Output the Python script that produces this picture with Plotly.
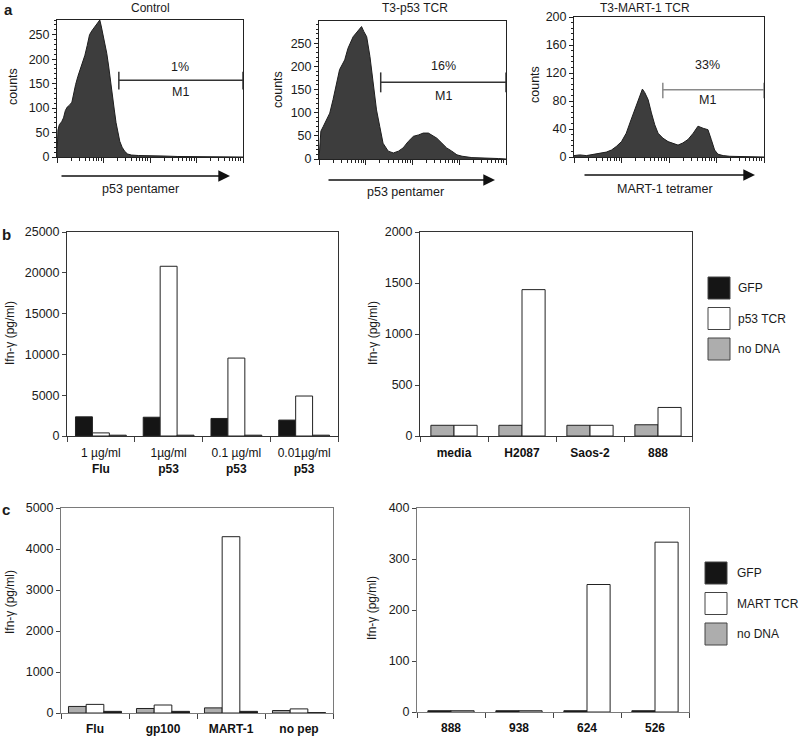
import plotly.graph_objects as go

W, H = 800, 737
FONT = "Arial, Liberation Sans, Helvetica, sans-serif"
FS = 12.5

# ---------------- Panel a: flow histograms (x = decades of fluorescence) ----------------
ctrl_dec = [0.00, 0.02, 0.05, 0.10, 0.14, 0.18, 0.22, 0.27, 0.32, 0.36, 0.40, 0.45, 0.50, 0.55,
            0.60, 0.65, 0.70, 0.75, 0.80, 0.84, 0.88, 0.92, 0.95, 0.99, 1.03, 1.07, 1.11, 1.15,
            1.19, 1.23, 1.27, 1.31, 1.35, 1.40, 1.46, 1.52, 1.60, 1.75, 2.00, 2.30, 2.60, 3.00, 4.00]
ctrl_cnt = [0, 55, 66, 72, 80, 95, 102, 106, 112, 132, 148, 165, 178, 193,
            208, 228, 250, 258, 264, 270, 276, 280, 268, 250, 232, 212, 186, 160,
            130, 98, 70, 48, 32, 20, 11, 6, 4, 3, 3, 2, 1, 1, 0]

p53_dec = [0.00, 0.04, 0.09, 0.16, 0.23, 0.30, 0.37, 0.44, 0.55, 0.62, 0.73, 0.84, 0.91, 0.96,
           1.02, 1.09, 1.16, 1.23, 1.30, 1.37, 1.48, 1.59, 1.70, 1.80, 1.91, 2.02, 2.13, 2.23,
           2.34, 2.41, 2.52, 2.63, 2.73, 2.84, 2.95, 3.06, 3.27, 3.84, 4.00]
p53_cnt = [0, 60, 70, 85, 99, 128, 164, 193, 214, 239, 264, 279, 286, 275,
           264, 221, 157, 106, 70, 34, 17, 13, 17, 24, 38, 49, 52, 56,
           56, 52, 45, 34, 24, 17, 9, 6, 3, 1, 0]

mart_dec = [0.00, 0.12, 0.26, 0.40, 0.54, 0.68, 0.79, 0.89, 1.00, 1.10, 1.20, 1.31, 1.38, 1.44,
            1.49, 1.56, 1.63, 1.70, 1.77, 1.87, 1.98, 2.08, 2.19, 2.29, 2.40, 2.51, 2.61, 2.72,
            2.82, 2.89, 2.96, 3.03, 3.14, 3.28, 4.00]
mart_cnt = [2, 3, 2, 4, 5, 7, 10, 15, 22, 34, 53, 72, 87, 97,
            92, 82, 63, 46, 34, 27, 22, 20, 17, 20, 25, 34, 44, 41,
            39, 25, 10, 4, 2, 1, 0]

# M1 gates: start decade, end decade, level, cap low, cap high
gate_start = [1.33, 1.32, 1.87]
gate_end = [4.0, 4.0, 4.0]
gate_level = [157, 166, 96]
gate_lo = [138, 144, 84]
gate_hi = [174, 187, 106]
gate_pct = ["1%", "16%", "33%"]
gate_label_dec = [2.65, 2.66, 2.82]
gate_pct_y = [184, 201, 131]
gate_m1_y = [133, 136, 82]

hist_titles = ["Control", "T3-p53 TCR", "T3-MART-1 TCR"]
hist_xlabels = ["p53 pentamer", "p53 pentamer", "MART-1 tetramer"]

# ---------------- Panel b ----------------
b1_cats = ["1 µg/ml<br><b>Flu</b>", "1µg/ml<br><b>p53</b>",
           "0.1 µg/ml<br><b>p53</b>", "0.01µg/ml<br><b>p53</b>"]
b1_gfp = [2350, 2300, 2150, 1950]
b1_tcr = [380, 20800, 9550, 4900]
b1_nodna = [100, 100, 100, 100]

b2_cats = ["<b>media</b>", "<b>H2087</b>", "<b>Saos-2</b>", "<b>888</b>"]
b2_gray = [105, 105, 105, 110]
b2_tcr = [105, 1435, 105, 280]

# ---------------- Panel c ----------------
c1_cats = ["<b>Flu</b>", "<b>gp100</b>", "<b>MART-1</b>", "<b>no pep</b>"]
c1_gray = [160, 110, 125, 60]
c1_tcr = [210, 195, 4300, 100]
c1_black = [40, 40, 40, 10]

c2_cats = ["<b>888</b>", "<b>938</b>", "<b>624</b>", "<b>526</b>"]
c2_gfp = [2.5, 2.5, 2.5, 2.5]
c2_tcr = [2.5, 2.5, 250, 333]

BLACK = "#151515"
GRAY = "#adadad"
WHITE = "#ffffff"
EDGE = "#222222"


def xd(a, b):
    return [a / W, b / W]


def yd(top, bottom):
    return [1 - bottom / H, 1 - top / H]


def ptext(x, y, text, size=FS, angle=0, xanchor="center", bold=False):
    return dict(x=x / W, y=1 - y / H, xref="paper", yref="paper",
                text=f"<b>{text}</b>" if bold else text, textangle=angle,
                xanchor=xanchor, yanchor="middle", showarrow=False,
                font=dict(size=size, color="#1a1a1a"))


fig = go.Figure()
annotations = []
shapes = []

# ---------- histograms ----------
hist_data = [(ctrl_dec, ctrl_cnt), (p53_dec, p53_cnt), (mart_dec, mart_cnt)]
hist_x_dom = [(57, 243), (319, 506), (574, 764)]
hist_y_dom = [(20, 157), (21, 159), (17, 157)]
hist_yrange = [280, 298, 200]
hist_dtick = [50, 50, 40]
hist_minor = [10, 10, 8]
gate_colors = ["#333333", "#333333", "#8a8a8a"]
title_pos = [(150, 8), (415, 8), (645, 8)]
counts_pos = [(13, 87), (278, 90), (535, 85)]
arrow_pos = [(60, 230, 176), (327, 495, 180), (583, 755, 175)]
xlabel_pos = [(140, 189), (405, 192), (665, 189)]

for i in range(3):
    xa = "x" if i == 0 else f"x{i+1}"
    ya = "y" if i == 0 else f"y{i+1}"
    dec, cnt = hist_data[i]
    fig.add_trace(go.Scatter(x=[10 ** d for d in dec], y=cnt, mode="lines",
                             fill="tozeroy", fillcolor="#3d3d3d",
                             line=dict(color="#1e1e1e", width=1),
                             xaxis=xa, yaxis=ya, showlegend=False))
    s, e = gate_start[i], gate_end[i]
    gx = [10 ** s, 10 ** s, None, 10 ** s, 10 ** e, None, 10 ** e, 10 ** e]
    gy = [gate_lo[i], gate_hi[i], None, gate_level[i], gate_level[i], None, gate_lo[i], gate_hi[i]]
    fig.add_trace(go.Scatter(x=gx, y=gy, mode="lines",
                             line=dict(color=gate_colors[i], width=1.5),
                             xaxis=xa, yaxis=ya, showlegend=False, cliponaxis=False))
    annotations.append(dict(x=gate_label_dec[i], y=gate_pct_y[i], xref=xa, yref=ya,
                            xanchor="center", yanchor="middle",
                            text=gate_pct[i], showarrow=False, font=dict(size=FS, color="#1a1a1a")))
    annotations.append(dict(x=gate_label_dec[i], y=gate_m1_y[i], xref=xa, yref=ya,
                            xanchor="center", yanchor="middle",
                            text="M1", showarrow=False, font=dict(size=FS, color="#1a1a1a")))
    key = "" if i == 0 else str(i + 1)
    fig.layout["xaxis" + key] = dict(
        type="log", range=[0, 4], domain=xd(*hist_x_dom[i]), anchor=ya, automargin=False,
        showticklabels=False, ticks="outside", ticklen=5, dtick=1, tickcolor="#222",
        minor=dict(ticks="outside", ticklen=3, tickcolor="#222", showgrid=False),
        showline=True, linecolor="#222", linewidth=1, mirror=True,
        showgrid=False, zeroline=False)
    fig.layout["yaxis" + key] = dict(
        range=[0, hist_yrange[i]], domain=yd(*hist_y_dom[i]), anchor=xa, automargin=False,
        dtick=hist_dtick[i], ticks="outside", ticklen=4, tickcolor="#222",
        minor=dict(ticks="outside", ticklen=2, dtick=hist_minor[i], tickcolor="#222", showgrid=False),
        showline=True, linecolor="#222", linewidth=1, mirror=True,
        showgrid=False, zeroline=False, tickfont=dict(size=FS, color="#1a1a1a"))
    tx, ty = title_pos[i]
    annotations.append(ptext(tx, ty, hist_titles[i], size=12))
    cx, cy = counts_pos[i]
    annotations.append(ptext(cx, cy, "counts", angle=-90))
    ax0, ax1, ay = arrow_pos[i]
    annotations.append(dict(x=ax1 / W, y=1 - ay / H, xref="paper", yref="paper", ax=-(ax1 - ax0), ay=0,
                            text="", showarrow=True, arrowhead=2, arrowsize=1.8, arrowwidth=1.3,
                            arrowcolor="#111"))
    lx, ly = xlabel_pos[i]
    annotations.append(ptext(lx, ly, hist_xlabels[i]))

# ---------- bar panels ----------
def bar(x, y, color, xa, ya, width, offset):
    return go.Bar(x=x, y=y, marker=dict(color=color, line=dict(color=EDGE, width=1)),
                  xaxis=xa, yaxis=ya, showlegend=False, width=width, offset=offset)


# b left (axes 4)
fig.add_trace(bar(b1_cats, b1_gfp, BLACK, "x4", "y4", 0.25, -0.375))
fig.add_trace(bar(b1_cats, b1_tcr, WHITE, "x4", "y4", 0.25, -0.125))
fig.add_trace(bar(b1_cats, b1_nodna, GRAY, "x4", "y4", 0.25, 0.125))
# b right (axes 5)
fig.add_trace(bar(b2_cats, b2_gray, GRAY, "x5", "y5", 0.34, -0.34))
fig.add_trace(bar(b2_cats, b2_tcr, WHITE, "x5", "y5", 0.34, 0.0))
# c left (axes 6)
fig.add_trace(bar(c1_cats, c1_gray, GRAY, "x6", "y6", 0.26, -0.39))
fig.add_trace(bar(c1_cats, c1_tcr, WHITE, "x6", "y6", 0.26, -0.13))
fig.add_trace(bar(c1_cats, c1_black, BLACK, "x6", "y6", 0.26, 0.13))
# c right (axes 7)
fig.add_trace(bar(c2_cats, c2_gfp, BLACK, "x7", "y7", 0.34, -0.34))
fig.add_trace(bar(c2_cats, c2_tcr, WHITE, "x7", "y7", 0.34, 0.0))

bar_panels = [
    # key, xdom, ydom, yrange, dtick, framecolor, standoff
    ("4", (67, 338), (232, 436), 25000, 5000, "#333333", 6),
    ("5", (420, 692), (232, 436), 2000, 500, "#333333", 6),
    ("6", (61, 333), (508, 713), 5000, 1000, "#7a7a7a", 5),
    ("7", (417, 689), (508, 712), 400, 100, "#7a7a7a", 5),
]
for key, xdom, ydom, yr, dt, fc, so in bar_panels:
    fig.layout["xaxis" + key] = dict(
        domain=xd(*xdom), anchor="y" + key, type="category", automargin=False,
        ticks="outside", tickson="boundaries", ticklen=5, tickcolor="#444",
        ticklabelstandoff=so,
        showline=True, linecolor=fc, linewidth=1, mirror=True,
        showgrid=False, zeroline=False, tickfont=dict(size=12, color="#111"))
    fig.layout["yaxis" + key] = dict(
        domain=yd(*ydom), anchor="x" + key, range=[0, yr], dtick=dt, tickformat="d",
        automargin=False, ticks="outside", ticklen=4, tickcolor="#444",
        showline=True, linecolor=fc, linewidth=1, mirror=True,
        showgrid=False, zeroline=False, tickfont=dict(size=FS, color="#1a1a1a"))

# y titles for bar panels
for (x, y) in [(10, 333), (373, 333), (10, 602), (372, 608)]:
    annotations.append(ptext(x, y, "Ifn-γ (pg/ml)", size=12, angle=-90))

# panel letters
for (t, x, y) in [("a", 8, 9), ("b", 6, 234), ("c", 6, 510)]:
    annotations.append(ptext(x, y, t, size=15, bold=True))

# legends
legend_b = [("GFP", BLACK), ("p53 TCR", WHITE), ("no DNA", GRAY)]
legend_c = [("GFP", BLACK), ("MART TCR", WHITE), ("no DNA", GRAY)]
for items, x0, top0, tx in [(legend_b, 708, 277, 736), (legend_c, 705, 562, 735)]:
    for j, (name, col) in enumerate(items):
        t = top0 + j * 30.5
        shapes.append(dict(type="rect", xref="paper", yref="paper",
                           x0=x0 / W, x1=(x0 + 22) / W, y0=1 - (t + 22) / H, y1=1 - t / H,
                           fillcolor=col, line=dict(color="#444", width=1)))
        annotations.append(ptext(tx, t + 11, name, size=12, xanchor="left"))

fig.update_layout(
    width=W, height=H, margin=dict(l=0, r=0, t=0, b=0, autoexpand=False),
    paper_bgcolor="white", plot_bgcolor="white",
    font=dict(family=FONT, size=FS, color="#1a1a1a"),
    annotations=annotations, shapes=shapes, showlegend=False,
)

fig.write_html("out.html", config={"displayModeBar": False},
               post_script="document.body.style.margin='0';document.body.style.padding='0';")
